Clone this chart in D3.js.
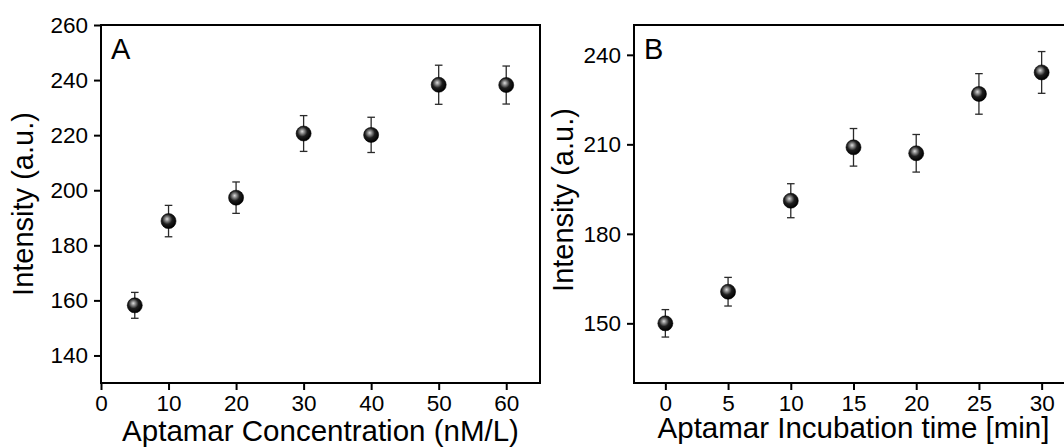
<!DOCTYPE html>
<html>
<head>
<meta charset="utf-8">
<script src="https://cdn.jsdelivr.net/npm/d3@7"></script>
<style>
  html, body { margin: 0; padding: 0; background: #fff; }
  svg { display: block; }
  text { font-family: "Liberation Sans", Arial, sans-serif; fill: #000; }
</style>
</head>
<body>
<svg id="chart" width="1064" height="447"></svg>
<script>
// Panel A: signal vs aptamer concentration
const concX = [5, 10, 20, 30, 40, 50, 60];
const concY = [158.2, 188.8, 197.3, 220.6, 220.1, 238.3, 238.2];
const concErr = [4.7, 5.7, 5.7, 6.5, 6.4, 7.1, 6.9];
const concTicksX = [0, 10, 20, 30, 40, 50, 60];
const concTicksY = [140, 160, 180, 200, 220, 240, 260];

// Panel B: signal vs incubation time
const timeX = [0, 5, 10, 15, 20, 25, 30];
const timeY = [150.0, 160.6, 191.1, 209.0, 207.0, 226.9, 234.1];
const timeErr = [4.6, 4.8, 5.7, 6.3, 6.3, 6.8, 7.0];
const timeTicksX = [0, 5, 10, 15, 20, 25, 30];
const timeTicksY = [150, 180, 210, 240];

const svg = d3.select("#chart");

// Shaded sphere marker
const defs = svg.append("defs");
const grad = defs.append("radialGradient")
  .attr("id", "sphere").attr("cx", "42%").attr("cy", "40%").attr("r", "60%")
  .attr("fx", "40%").attr("fy", "36%");
grad.append("stop").attr("offset", "0%").attr("stop-color", "#dcdcdc");
grad.append("stop").attr("offset", "22%").attr("stop-color", "#8e8e8e");
grad.append("stop").attr("offset", "55%").attr("stop-color", "#1e1e1e");
grad.append("stop").attr("offset", "100%").attr("stop-color", "#000");

function panel(opts) {
  const x = d3.scaleLinear().domain(opts.xDomain).range([opts.left, opts.right]);
  const y = d3.scaleLinear().domain(opts.yDomain).range([opts.bottom, opts.top]);
  const g = svg.append("g");

  // frame
  g.append("rect")
    .attr("x", opts.left).attr("y", opts.top)
    .attr("width", opts.right - opts.left).attr("height", opts.bottom - opts.top)
    .attr("fill", "none").attr("stroke", "#000").attr("stroke-width", 2);

  const xAxis = g.append("g")
    .attr("transform", `translate(0,${opts.bottom})`)
    .call(d3.axisBottom(x).tickValues(opts.xTicks).tickSize(7).tickPadding(5).tickFormat(d3.format("d")));
  const yAxis = g.append("g")
    .attr("transform", `translate(${opts.left},0)`)
    .call(d3.axisLeft(y).tickValues(opts.yTicks).tickSize(7).tickPadding(6).tickFormat(d3.format("d")));

  [xAxis, yAxis].forEach(a => {
    a.select(".domain").remove();
    a.selectAll(".tick line").attr("stroke", "#000").attr("stroke-width", 2);
    a.selectAll(".tick text").attr("font-size", 22.5)
      .attr("font-family", "Liberation Sans, Arial, sans-serif").attr("fill", "#000");
  });

  // axis titles
  g.append("text")
    .attr("x", (opts.left + opts.right) / 2).attr("y", opts.xTitleY)
    .attr("text-anchor", "middle").attr("font-size", 29.5)
    .text(opts.xTitle);
  g.append("text")
    .attr("transform", `translate(${opts.yTitleX},${opts.yTitleCY}) rotate(-90)`)
    .attr("text-anchor", "middle").attr("font-size", 29)
    .text("Intensity (a.u.)");

  // panel letter
  g.append("text")
    .attr("x", opts.left + 10).attr("y", opts.top + 34)
    .attr("font-size", 29).text(opts.letter);

  // error bars
  const pts = opts.xs.map((v, i) => ({ x: v, y: opts.ys[i], e: opts.errs[i] }));
  const eb = g.append("g").attr("stroke", "#2a2a2a").attr("stroke-width", 1.3);
  eb.selectAll("line.v").data(pts).join("line").attr("class", "v")
    .attr("x1", d => x(d.x)).attr("x2", d => x(d.x))
    .attr("y1", d => y(d.y + d.e)).attr("y2", d => y(d.y - d.e));
  eb.selectAll("line.t").data(pts).join("line").attr("class", "t")
    .attr("x1", d => x(d.x) - 3.8).attr("x2", d => x(d.x) + 3.8)
    .attr("y1", d => y(d.y + d.e)).attr("y2", d => y(d.y + d.e));
  eb.selectAll("line.b").data(pts).join("line").attr("class", "b")
    .attr("x1", d => x(d.x) - 3.8).attr("x2", d => x(d.x) + 3.8)
    .attr("y1", d => y(d.y - d.e)).attr("y2", d => y(d.y - d.e));

  // markers
  g.append("g").selectAll("circle").data(pts).join("circle")
    .attr("cx", d => x(d.x)).attr("cy", d => y(d.y)).attr("r", 7.5)
    .attr("fill", "url(#sphere)").attr("stroke", "#000").attr("stroke-width", 0.6);
}

panel({
  left: 101, right: 540, top: 25, bottom: 383,
  xDomain: [0, 65], yDomain: [130, 260],
  xTicks: concTicksX, yTicks: concTicksY,
  xs: concX, ys: concY, errs: concErr,
  xTitle: "Aptamar Concentration (nM/L)", xTitleY: 441,
  yTitleX: 33, yTitleCY: 204, letter: "A"
});

panel({
  left: 634, right: 1073, top: 25, bottom: 383,
  xDomain: [-2.5, 32.5], yDomain: [130, 250],
  xTicks: timeTicksX, yTicks: timeTicksY,
  xs: timeX, ys: timeY, errs: timeErr,
  xTitle: "Aptamar Incubation time [min]", xTitleY: 438,
  yTitleX: 573, yTitleCY: 200, letter: "B"
});
</script>
</body>
</html>
